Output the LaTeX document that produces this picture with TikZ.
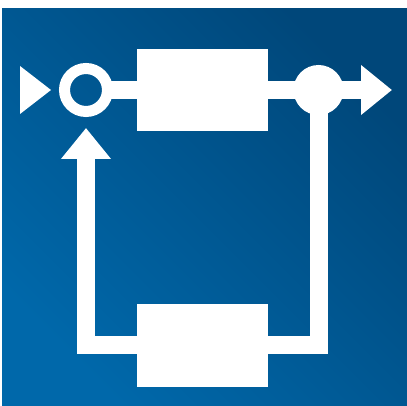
\documentclass[tikz,border=0pt]{standalone}
\usepackage{tikz}
\usetikzlibrary{arrows.meta, positioning, calc}
\definecolor{loopdark}{HTML}{00477A}
\definecolor{looplight}{HTML}{0068AA}
\tikzset{
  blk/.style={rectangle, fill=white, inner sep=0pt, outer sep=0pt,
              minimum width=131pt, minimum height=82pt},
  sig/.style={draw=white, line width=18pt},
  arr/.style={sig, -{Triangle[length=31pt, width=48pt]}},
}

\begin{document}
\begin{tikzpicture}[
  x=1pt, y=-1pt,
  sumring/.style={circle, draw=white, line width=11pt, minimum size=43pt, inner sep=0pt},
  branchdot/.style={circle, fill=white, minimum size=50pt, inner sep=0pt, outer sep=0pt}
]
  \useasboundingbox (0,0) rectangle (407,406);
  \shade[left color=loopdark, right color=looplight, shading angle=-45] (2,9) rectangle (407,406);

  \coordinate (in) at (20,90);
  \node[sumring] (sum) at (86,90) {};
  \node[blk] (plant) at (202.5,90) {};
  \node[branchdot] (branch) at (318.5,90) {};
  \coordinate (out) at (392,90);
  \node[blk, minimum height=83pt] (fback) at (202.5,345) {};

  % input marker
  \fill[white] (in) ++(0,-24) -- ++(31,24) -- ++(-31,24) -- cycle;

  \draw[sig] ([xshift=-3pt]sum.east) -- (plant);
  \draw[sig] (plant) -- (branch.center);
  \draw[arr] (branch.center) -- (out);

  % feedback path
  \draw[sig] (branch.center) |- (fback);
  \draw[arr, shorten >=11pt] (fback) -| (sum);
\end{tikzpicture}
\end{document}
